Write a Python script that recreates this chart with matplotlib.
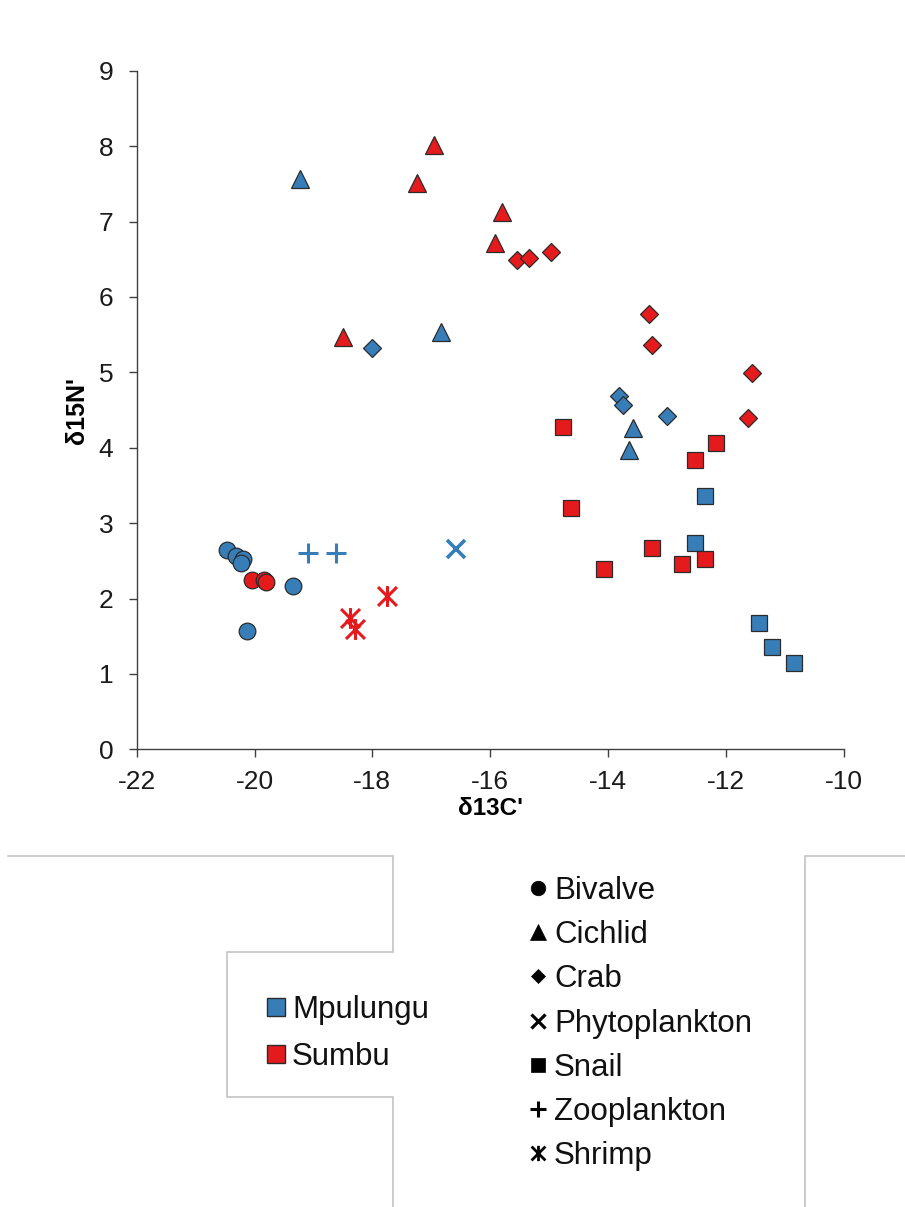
import matplotlib
matplotlib.use("Agg")
import matplotlib.pyplot as plt
from matplotlib.path import Path

plt.rcParams['font.family'] = ['Liberation Sans', 'DejaVu Sans']

BLUE = '#377eb8'
RED = '#e41a1c'
EDGE = '#2b2b2b'

# ---- data: Mpulungu (blue)
mp_bivalve_x = [-20.47, -20.31, -20.20, -20.23, -19.35, -20.13]
mp_bivalve_y = [2.64, 2.56, 2.53, 2.47, 2.16, 1.57]
mp_cichlid_x = [-19.22, -16.83, -13.57, -13.65]
mp_cichlid_y = [7.56, 5.54, 4.26, 3.97]
mp_crab_x = [-18.00, -13.82, -13.74, -13.00]
mp_crab_y = [5.32, 4.68, 4.57, 4.42]
mp_phyto_x = [-16.58]
mp_phyto_y = [2.66]
mp_snail_x = [-12.36, -12.52, -11.43, -11.21, -10.84]
mp_snail_y = [3.36, 2.73, 1.68, 1.36, 1.15]
mp_zoo_x = [-19.09, -18.62]
mp_zoo_y = [2.60, 2.61]

# ---- data: Sumbu (red)
sb_bivalve_x = [-20.05, -19.84, -19.81]
sb_bivalve_y = [2.25, 2.25, 2.22]
sb_cichlid_x = [-16.96, -17.24, -15.80, -15.92, -18.50]
sb_cichlid_y = [8.01, 7.51, 7.12, 6.72, 5.47]
sb_crab_x = [-15.55, -15.34, -14.97, -13.31, -13.26, -11.55, -11.63]
sb_crab_y = [6.49, 6.51, 6.59, 5.77, 5.36, 4.99, 4.39]
sb_snail_x = [-14.77, -12.16, -12.53, -14.63, -13.25, -14.06, -12.75, -12.36]
sb_snail_y = [4.28, 4.06, 3.84, 3.20, 2.67, 2.39, 2.46, 2.52]
sb_shrimp_x = [-18.38, -18.29, -17.75]
sb_shrimp_y = [1.74, 1.60, 2.03]

site_labels = ['Mpulungu', 'Sumbu']
species_labels = ['Bivalve', 'Cichlid', 'Crab', 'Phytoplankton', 'Snail', 'Zooplankton', 'Shrimp']
x_ticks = [-22, -20, -18, -16, -14, -12, -10]
y_ticks = [0, 1, 2, 3, 4, 5, 6, 7, 8, 9]

# shrimp marker: X with vertical bar
shrimp_marker = Path(
    [(-0.5, -0.5), (0.5, 0.5), (-0.5, 0.5), (0.5, -0.5), (0, -0.55), (0, 0.55)],
    [Path.MOVETO, Path.LINETO, Path.MOVETO, Path.LINETO, Path.MOVETO, Path.LINETO])

W, H = 905, 1207
fig = plt.figure(figsize=(W / 100, H / 100), dpi=100)
L, R, T, B = 136.7, 843.7, 70.7, 749.3
ax = fig.add_axes([L / W, 1 - B / H, (R - L) / W, (B - T) / H])

filled = dict(linestyle='none', markeredgecolor=EDGE, markeredgewidth=0.9)

def draw(col, bx, by, cx, cy, crx, cry, snx, sny):
    ax.plot(bx, by, marker='o', ms=12, markerfacecolor=col, **filled)
    ax.plot(cx, cy, marker='^', ms=13, markerfacecolor=col, **filled)
    ax.plot(crx, cry, marker='D', ms=9, markerfacecolor=col, **filled)
    ax.plot(snx, sny, marker='s', ms=12, markerfacecolor=col, **filled)

draw(BLUE, mp_bivalve_x, mp_bivalve_y, mp_cichlid_x, mp_cichlid_y,
     mp_crab_x, mp_crab_y, mp_snail_x, mp_snail_y)
ax.plot(mp_phyto_x, mp_phyto_y, linestyle='none', marker='x', ms=13,
        markeredgecolor=BLUE, markeredgewidth=2.6)
ax.plot(mp_zoo_x, mp_zoo_y, linestyle='none', marker='+', ms=14,
        markeredgecolor=BLUE, markeredgewidth=2.2)
draw(RED, sb_bivalve_x, sb_bivalve_y, sb_cichlid_x, sb_cichlid_y,
     sb_crab_x, sb_crab_y, sb_snail_x, sb_snail_y)
ax.plot(sb_shrimp_x, sb_shrimp_y, linestyle='none', marker=shrimp_marker, ms=15,
        markeredgecolor=RED, markerfacecolor='none', markeredgewidth=2.2)

ax.set_xlim(-22, -10)
ax.set_ylim(0, 9)
ax.set_xticks(x_ticks)
ax.set_yticks(y_ticks)
ax.set_xticklabels([str(v) for v in x_ticks])
ax.set_yticklabels([str(v) for v in y_ticks])
for s in ['top', 'right']:
    ax.spines[s].set_visible(False)
for s in ['left', 'bottom']:
    ax.spines[s].set_color('#404040')
    ax.spines[s].set_linewidth(1.0)
ax.tick_params(axis='both', colors='#404040', labelcolor='#1a1a1a', length=5.8, width=1.0,
               labelsize=19)
ax.tick_params(axis='y', pad=11)
ax.tick_params(axis='x', pad=9)
ax.set_xlabel("δ13C'", fontsize=17.5, fontweight='bold', labelpad=2)
ax.set_ylabel("δ15N'", fontsize=18, fontweight='bold', labelpad=7)

# ---- legend overlay in pixel coordinates
lax = fig.add_axes([0, 0, 1, 1], zorder=-1)
lax.set_xlim(0, W)
lax.set_ylim(H, 0)
lax.axis('off')

GRAY = '#bfbfbf'
boxes = [
    [(8, 856), (393, 856), (393, 952), (227, 952), (227, 1097), (393, 1097), (393, H)],
    [(W, 856), (805, 856), (805, H)],
]
for pts in boxes:
    xs = [p[0] for p in pts]
    ys = [p[1] for p in pts]
    lax.plot(xs, ys, color=GRAY, lw=1.1, solid_joinstyle='miter')

site_colors = [BLUE, RED]
site_rows = [1007, 1054]
for lab, col, yc in zip(site_labels, site_colors, site_rows):
    lax.plot([276], [yc], marker='s', ms=13, markerfacecolor=col,
             markeredgecolor=EDGE, markeredgewidth=1.0, linestyle='none')
    lax.text(292, yc + 11, lab, fontsize=22.5, color='#111111', va='baseline', ha='left')

sp_markers = [('o', 10.5, 0), ('^', 11, 0), ('D', 7.5, 0), ('x', 10, 2.3),
              ('s', 10.5, 0), ('+', 11, 2.2), (shrimp_marker, 11, 2.0)]
sp_rows = [888, 932, 976, 1021, 1065, 1109, 1153]
for lab, (m, ms, mew), yc in zip(species_labels, sp_markers, sp_rows):
    if mew:
        lax.plot([538], [yc], marker=m, ms=ms, markeredgecolor='black',
                 markerfacecolor='none', markeredgewidth=mew, linestyle='none')
    else:
        lax.plot([538], [yc], marker=m, ms=ms, markerfacecolor='black',
                 markeredgecolor='black', markeredgewidth=0.5, linestyle='none')
    lax.text(554, yc + 11, lab, fontsize=22.5, color='#111111', va='baseline', ha='left')

fig.savefig('out.png', dpi=100)
